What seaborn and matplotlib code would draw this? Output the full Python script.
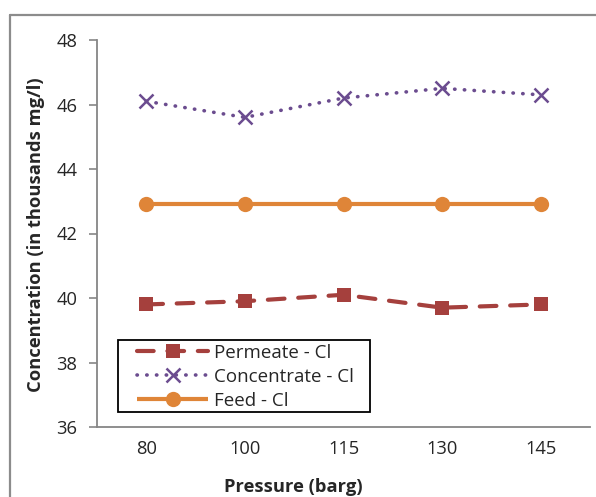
import matplotlib
matplotlib.use("Agg")
import matplotlib.pyplot as plt
from matplotlib.lines import Line2D
from matplotlib.patches import Rectangle
import seaborn as sns
import pandas as pd

pressures = ["80", "100", "115", "130", "145"]
permeate = [39.8, 39.9, 40.1, 39.7, 39.8]
concentrate = [46.1, 45.6, 46.2, 46.5, 46.3]
feed = [42.9, 42.9, 42.9, 42.9, 42.9]
series_names = ["Permeate - Cl", "Concentrate - Cl", "Feed - Cl"]
y_ticks = [36, 38, 40, 42, 44, 46, 48]

sns.set_style("white")
plt.rcParams["font.family"] = ["Open Sans", "DejaVu Sans"]

FS = 13.2
AX_L, AX_R, AX_T, AX_B = 97, 590, 40, 427
AW, AH = AX_R - AX_L, AX_B - AX_T


def ax_x(px):
    return (px - AX_L) / AW


def ax_y(py):
    return (AX_B - py) / AH


fig = plt.figure(figsize=(5.96, 4.97), dpi=100)
ax = fig.add_axes([AX_L / 596, 1 - AX_B / 497, AW / 596, AH / 497])

spec = [
    (permeate, "#A5403D", (0, (4, 3.3)), "s", 10, 3.0),
    (concentrate, "#6B4C8F", (0, (0.1, 2.6)), "x", 10, 2.6),
    (feed, "#DF8538", "-", "o", 11, 3.0),
]
for name, (vals, col, ls, mk, ms, lw) in zip(series_names, spec):
    df = pd.DataFrame({"x": list(range(len(pressures))), "y": vals})
    sns.lineplot(data=df, x="x", y="y", ax=ax, color=col, linestyle=ls,
                 marker=mk, markersize=ms, linewidth=lw, label=name,
                 markeredgecolor=col, markeredgewidth=1.8 if mk == "x" else 0,
                 dash_capstyle="round", solid_capstyle="butt")

ax.set_xlim(-0.5, 4.5)
ax.set_ylim(36, 48)
ax.set_yticks(y_ticks)
ax.set_yticklabels([str(t) for t in y_ticks])
ax.set_xticks(range(len(pressures)))
ax.set_xticklabels(pressures)
ax.tick_params(axis="y", which="major", length=6, width=1.2, color="#868686",
               direction="out", left=True, labelsize=FS, pad=8)
ax.tick_params(axis="x", length=0, labelsize=FS, pad=9)

for s in ["top", "right"]:
    ax.spines[s].set_visible(False)
for s in ["left", "bottom"]:
    ax.spines[s].set_color("#868686")
    ax.spines[s].set_linewidth(1.3)

ax.set_xlabel("Pressure (barg)", fontsize=FS, fontweight="bold")
ax.xaxis.set_label_coords(ax_x(293), ax_y(487))
ax.xaxis.label.set_va("center")
ax.set_ylabel("Concentration (in thousands mg/l)", fontsize=FS,
              fontweight="bold")
ax.yaxis.set_label_coords(ax_x(36), ax_y(235))
ax.yaxis.label.set_va("center")

leg = ax.legend(loc="upper left", bbox_to_anchor=(ax_x(137), ax_y(344)),
                frameon=False, fontsize=13.5, handlelength=3.8,
                borderpad=0, labelspacing=0.32, handletextpad=0.32,
                borderaxespad=0)
ax.add_patch(Rectangle((ax_x(118), ax_y(412)), ax_x(370) - ax_x(118),
                       ax_y(340) - ax_y(412), transform=ax.transAxes,
                       fill=False, edgecolor="black", linewidth=1.3,
                       zorder=5))

fig.add_artist(Line2D([9.5 / 596, 9.5 / 596], [0, 1 - 15 / 497],
                      color="#8C8C8C", linewidth=1.6, transform=fig.transFigure))
fig.add_artist(Line2D([9.5 / 596, 1], [1 - 15 / 497, 1 - 15 / 497],
                      color="#8C8C8C", linewidth=1.6, transform=fig.transFigure))

fig.savefig("out.png", dpi=100)
